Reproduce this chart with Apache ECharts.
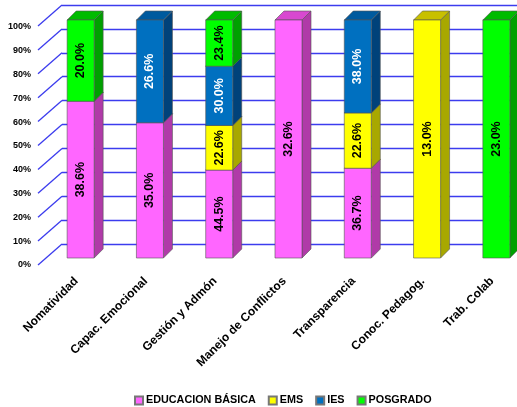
<!DOCTYPE html>
<html>
<head>
<meta charset="utf-8">
<script src="https://cdn.jsdelivr.net/npm/echarts@6/dist/echarts.min.js"></script>
<style>html,body{margin:0;padding:0;background:#fff;}#c{width:517px;height:407px;}</style>
</head>
<body>
<div id="c"></div>
<script>
var categories = ['Nomatividad', 'Capac. Emocional', 'Gestión y Admón', 'Manejo de Conflictos', 'Transparencia', 'Conoc. Pedagog.', 'Trab. Colab'];
var seriesNames = ['EDUCACION BÁSICA', 'EMS', 'IES', 'POSGRADO'];
var educacionBasica = [38.6, 35.0, 44.5, 32.6, 36.7, 0, 0];
var ems = [0, 0, 22.6, 0, 22.6, 13.0, 0];
var ies = [0, 26.6, 30.0, 0, 38.0, 0, 0];
var posgrado = [20.0, 0, 23.4, 0, 0, 0, 23.0];
var yTicks = [0, 10, 20, 30, 40, 50, 60, 70, 80, 90, 100];

var raw = [educacionBasica, ems, ies, posgrado];
var front = ['#ff66ff', '#ffff00', '#0070c0', '#00ff00'];
var side = ['#b03aa8', '#a8a800', '#00427a', '#00a000'];
var topc = ['#d848d0', '#c8c000', '#005a9e', '#00bb00'];
var txtc = ['#000', '#000', '#fff', '#000'];
var DX = 9, DY = -9;
var FF = '"Liberation Sans", Arial, sans-serif';
var FONT = 'bold 12.5px ' + FF;

var totals = categories.map(function (c, i) {
  return raw.reduce(function (s, arr) { return s + arr[i]; }, 0);
});

function segData(k) {
  return categories.map(function (c, i) {
    var base = 0;
    for (var j = 0; j < k; j++) base += raw[j][i] / totals[i] * 100;
    var h = raw[k][i] / totals[i] * 100;
    return [i, base, base + h, raw[k][i]];
  });
}

function makeSeries(k) {
  return {
    name: seriesNames[k],
    type: 'custom',
    xAxisIndex: 0, yAxisIndex: 0,
    itemStyle: { color: front[k], borderColor: '#777', borderWidth: 1 },
    data: segData(k),
    renderItem: function (params, api) {
      var v = api.value(3);
      if (!v) return null;
      var i = api.value(0);
      var pTop = api.coord([i, api.value(2)]);
      var pBot = api.coord([i, api.value(1)]);
      var w = api.size([1, 0])[0] * 0.39;
      var x0 = pTop[0] - w / 2, x1 = pTop[0] + w / 2;
      var yT = pTop[1], yB = pBot[1];
      var st = { stroke: '#555', lineWidth: 0.6 };
      return {
        type: 'group',
        children: [
          { type: 'polygon', shape: { points: [[x1, yB], [x1 + DX, yB + DY], [x1 + DX, yT + DY], [x1, yT]] },
            style: Object.assign({ fill: side[k] }, st) },
          { type: 'polygon', shape: { points: [[x0, yT], [x0 + DX, yT + DY], [x1 + DX, yT + DY], [x1, yT]] },
            style: Object.assign({ fill: topc[k] }, st) },
          { type: 'rect', shape: { x: x0, y: yT, width: w, height: yB - yT },
            style: Object.assign({ fill: front[k] }, st) },
          { type: 'text', x: pTop[0], y: (yT + yB) / 2, rotation: Math.PI / 2,
            style: { text: v.toFixed(1) + '%', align: 'center', verticalAlign: 'middle', fill: txtc[k], font: FONT } }
        ]
      };
    }
  };
}

var chart = echarts.init(document.getElementById('c'), null, { renderer: 'canvas' });
var series = [
  {
    type: 'custom', xAxisIndex: 1, yAxisIndex: 1, silent: true,
    data: yTicks.map(function (t) { return [0, t]; }),
    renderItem: function (params, api) {
      var p = api.coord([0, api.value(1)]);
      return { type: 'line', shape: { x1: p[0], y1: p[1], x2: p[0] - 24, y2: p[1] + 21 },
        style: { stroke: '#3c3cee', lineWidth: 1.3 } };
    }
  }
];
for (var k = 0; k < 4; k++) series.push(makeSeries(k));

chart.setOption({
  animation: false,
  backgroundColor: '#fff',
  legend: {
    data: seriesNames, top: 390, left: 129,
    icon: 'rect', itemWidth: 8, itemHeight: 8, itemGap: 12,
    textStyle: { fontFamily: FF, fontWeight: 'bold', fontSize: 10.8, color: '#000', padding: [0, 0, 0, -2] }
  },
  grid: [
    { left: 46, width: 485, top: 20, bottom: 149, outerBoundsMode: 'none', containLabel: false },
    { left: 62, right: 0, top: 5, bottom: 163, outerBoundsMode: 'none', containLabel: false },
    { left: 38, width: 1, top: 27, bottom: 142, outerBoundsMode: 'none', containLabel: false }
  ],
  xAxis: [
    { type: 'category', gridIndex: 0, data: categories,
      axisLine: { show: false }, axisTick: { show: false },
      axisLabel: { rotate: 45, margin: 17, interval: 0, padding: [0, 6, 0, 0], color: '#000', fontWeight: 'bold', fontSize: 12, fontFamily: FF } },
    { type: 'value', gridIndex: 1, min: 0, max: 1, show: false },
    { type: 'value', gridIndex: 2, min: 0, max: 1, show: false }
  ],
  yAxis: [
    { type: 'value', gridIndex: 0, min: 0, max: 100, show: false },
    { type: 'value', gridIndex: 1, min: 0, max: 100, interval: 10,
      axisLine: { show: false }, axisTick: { show: false }, axisLabel: { show: false },
      splitLine: { show: true, lineStyle: { color: '#3c3cee', width: 1.3 } } },
    { type: 'value', gridIndex: 2, min: 0, max: 100, interval: 10,
      axisLine: { show: false }, axisTick: { show: false }, splitLine: { show: false },
      axisLabel: { formatter: '{value}%', margin: 7, color: '#000', fontWeight: 'bold', fontSize: 9, fontFamily: FF } }
  ],
  series: series
});
</script>
</body>
</html>
